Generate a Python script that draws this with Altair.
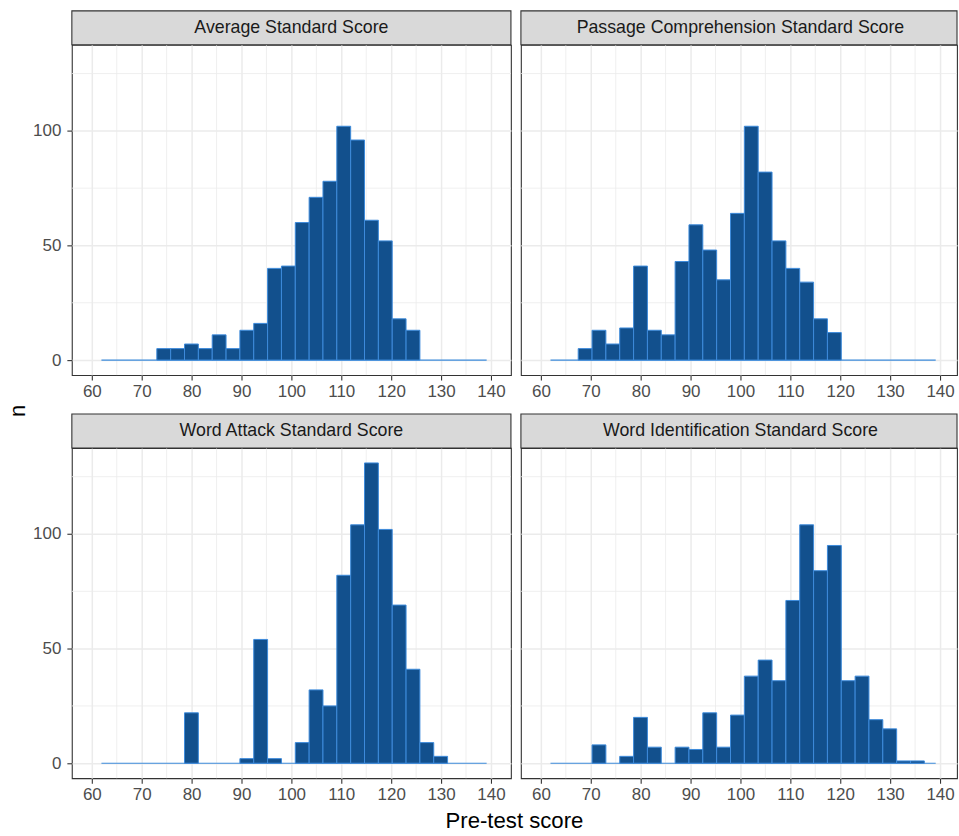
import altair as alt
import pandas as pd

# ---------------- data ----------------
PANEL_TITLES = [
    "Average Standard Score",
    "Passage Comprehension Standard Score",
    "Word Attack Standard Score",
    "Word Identification Standard Score",
]
BIN_START = 61.93
BIN_WIDTH = 2.775

AVG_COUNTS = [0, 0, 0, 0, 5, 5, 7, 5, 11, 5, 13, 16, 40, 41, 60, 71, 78, 102, 96, 61, 52, 18, 13, 0, 0, 0, 0, 0]
PASSAGE_COUNTS = [0, 0, 5, 13, 7, 14, 41, 13, 11, 43, 59, 48, 35, 64, 102, 82, 52, 40, 34, 18, 12, 0, 0, 0, 0, 0, 0, 0]
ATTACK_COUNTS = [0, 0, 0, 0, 0, 0, 22, 0, 0, 0, 2, 54, 2, 0, 9, 32, 25, 82, 104, 131, 102, 69, 41, 9, 3, 0, 0, 0]
IDENT_COUNTS = [0, 0, 0, 8, 0, 3, 20, 7, 0, 7, 6, 22, 7, 21, 38, 45, 36, 71, 104, 84, 95, 36, 38, 19, 15, 1, 1, 0]

BASELINE = [61.93, 139.13]
X_TICKS = [60, 70, 80, 90, 100, 110, 120, 130, 140]
X_MINOR = [65, 75, 85, 95, 105, 115, 125, 135]
Y_TICKS = [0, 50, 100]
Y_MINOR = [25, 75, 125]
X_DOMAIN_LEFT = [56, 144]
X_DOMAIN_RIGHT = [56, 143.4]   # right column is cut at the image edge
Y_DOMAIN = [-6.55, 137.55]
X_TITLE = "Pre-test score"
Y_TITLE = "n"

# ---------------- styling ----------------
W_LEFT, W_RIGHT, H = 440, 437, 331
FONT = "Liberation Sans"
FILL = "#12508D"
EDGE = "#3D8BDB"
GRID = "#EBEBEB"
DARK = "#333333"

ys = alt.Scale(domain=Y_DOMAIN, nice=False, zero=False)


def panel(title, counts, left, bottom_left=False, top_left=False):
    W = W_LEFT if left else W_RIGHT
    xs = alt.Scale(domain=X_DOMAIN_LEFT if left else X_DOMAIN_RIGHT, nice=False, zero=False)
    n = len(counts)
    bars = pd.DataFrame({
        "x0": [BIN_START + i * BIN_WIDTH for i in range(n)],
        "x1": [BIN_START + (i + 1) * BIN_WIDTH for i in range(n)],
        "n": counts,
    })
    bars = bars[bars["n"] > 0]

    y_axis = alt.Axis(
        values=Y_TICKS, title=None, grid=True, gridColor=GRID, gridWidth=1.5,
        labels=left, ticks=left, tickColor=DARK, tickSize=5, tickWidth=1.1,
        labelFontSize=17, labelColor="#4D4D4D", labelPadding=6, domain=False,
    )
    x_axis = alt.Axis(
        values=X_TICKS, title=None, grid=True, gridColor=GRID, gridWidth=1.5,
        tickColor=DARK, tickSize=5, tickWidth=1.1, labelFontSize=17,
        labelColor="#4D4D4D", labelPadding=3, domain=False, labelFlush=False,
    )

    hist = alt.Chart(bars).mark_bar(
        fill=FILL, stroke=EDGE, strokeWidth=1, opacity=1
    ).encode(
        x=alt.X("x0:Q", scale=xs, axis=x_axis),
        x2="x1:Q",
        y=alt.Y("n:Q", scale=ys, axis=y_axis),
        y2=alt.datum(0),
    )

    minor_x = alt.Chart(pd.DataFrame({"v": X_MINOR})).mark_rule(
        color=GRID, strokeWidth=0.8
    ).encode(x=alt.X("v:Q", scale=xs, axis=x_axis), y=alt.value(0), y2=alt.value(H))

    minor_y = alt.Chart(pd.DataFrame({"v": Y_MINOR})).mark_rule(
        color=GRID, strokeWidth=0.8
    ).encode(y=alt.Y("v:Q", scale=ys, axis=y_axis), x=alt.value(0), x2=alt.value(W))

    base = alt.Chart(pd.DataFrame({"a": [BASELINE[0]], "b": [BASELINE[1]], "z": [0]})).mark_rule(
        color=EDGE, strokeWidth=1.2
    ).encode(
        x=alt.X("a:Q", scale=xs, axis=x_axis), x2="b:Q",
        y=alt.Y("z:Q", scale=ys, axis=y_axis),
    )

    tdf = pd.DataFrame({"label": [title]})
    strip = alt.Chart(tdf).mark_rect(
        fill="#D9D9D9", stroke=DARK, strokeWidth=1.1
    ).encode(x=alt.value(0), x2=alt.value(W), y=alt.value(-34), y2=alt.value(0))
    strip_text = alt.Chart(tdf).mark_text(
        font=FONT, fontSize=17.8, color="#1A1A1A", align="center", baseline="middle"
    ).encode(text="label:N", x=alt.value(W_LEFT / 2), y=alt.value(-16.5))

    layers = [minor_x, minor_y, base, hist, strip, strip_text]

    if top_left:
        ytitle = alt.Chart(pd.DataFrame({"t": [Y_TITLE]})).mark_text(
            font=FONT, fontSize=22, color="#000000", angle=270,
            align="center", baseline="middle"
        ).encode(text="t:N", x=alt.value(-54), y=alt.value(367))
        layers.append(ytitle)
    if bottom_left:
        xtitle = alt.Chart(pd.DataFrame({"t": [X_TITLE]})).mark_text(
            font=FONT, fontSize=22.2, color="#000000",
            align="center", baseline="alphabetic"
        ).encode(text="t:N", x=alt.value(443.5), y=alt.value(381))
        layers.append(xtitle)

    return alt.layer(*layers).properties(width=W, height=H)


p1 = panel(PANEL_TITLES[0], AVG_COUNTS, True, top_left=True)
p2 = panel(PANEL_TITLES[1], PASSAGE_COUNTS, False)
p3 = panel(PANEL_TITLES[2], ATTACK_COUNTS, True, bottom_left=True)
p4 = panel(PANEL_TITLES[3], IDENT_COUNTS, False)

chart = alt.concat(
    p1, p2, p3, p4, columns=2, spacing={"row": 73, "column": 10}, bounds="flush"
).properties(
    padding={"left": 6, "top": 8, "right": 0, "bottom": 0},
    background="white",
).configure(
    font=FONT
).configure_view(
    stroke=DARK, strokeWidth=1.1
).configure_axis(
    labelFont=FONT
)

chart.save("out.html", embed_options={"renderer": "svg", "actions": False})
